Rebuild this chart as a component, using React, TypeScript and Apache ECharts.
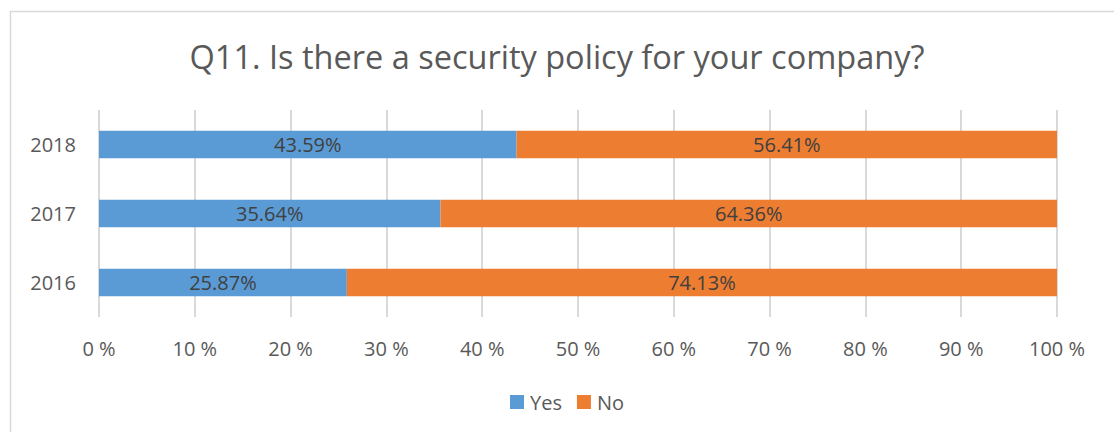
import React, { useEffect, useRef } from "react";
import * as echarts from "echarts";

const categories = ["2016", "2017", "2018"];
const yesValues = [25.87, 35.64, 43.59];
const noValues = [74.13, 64.36, 56.41];
const seriesNames = ["Yes", "No"];
const xTicks = [0, 10, 20, 30, 40, 50, 60, 70, 80, 90, 100];
const titleText = "Q11. Is there a security policy for your company?";

const FONT = "'Open Sans', 'Noto Sans', sans-serif";

export default function App() {
  const ref = useRef<HTMLDivElement>(null);
  useEffect(() => {
    if (!ref.current) return;
    const chart = echarts.init(ref.current, undefined, { renderer: "svg" });
    const labelStyle = {
      show: true,
      position: "inside" as const,
      color: "#404040",
      fontSize: 20,
      fontFamily: FONT,
      formatter: (p: any) => p.value.toFixed(2) + "%",
    };
    chart.setOption({
      animation: false,
      backgroundColor: "#ffffff",
      title: {
        text: titleText,
        left: "center",
        top: 35,
        textStyle: { color: "#595959", fontSize: 32.5, fontWeight: "normal", fontFamily: FONT },
      },
      legend: {
        data: seriesNames,
        bottom: 15,
        left: 505,
        itemWidth: 14,
        itemHeight: 14,
        itemGap: 15,
        icon: "rect",
        textStyle: { color: "#595959", fontSize: 20, fontFamily: FONT, padding: [0, 0, 0, 1] },
      },
      grid: { left: 99, right: 57, top: 110, height: 207, containLabel: false },
      xAxis: {
        type: "value",
        min: 0,
        max: 100,
        interval: 10,
        axisLine: { show: false },
        axisTick: { show: false },
        splitLine: { show: true, lineStyle: { color: "#d9d9d9", width: 2 } },
        axisLabel: {
          color: "#595959",
          fontSize: 20,
          fontFamily: FONT,
          margin: 21,
          formatter: (v: number) => (xTicks.includes(v) ? v + " %" : ""),
        },
      },
      yAxis: {
        type: "category",
        data: categories,
        axisLine: { show: false },
        axisTick: { show: false },
        axisLabel: { color: "#595959", fontSize: 20, fontFamily: FONT, margin: 23 },
      },
      series: [
        {
          name: seriesNames[0],
          type: "bar",
          stack: "total",
          data: yesValues,
          barCategoryGap: "60%",
          itemStyle: { color: "#5B9BD5" },
          label: labelStyle,
        },
        {
          name: seriesNames[1],
          type: "bar",
          stack: "total",
          data: noValues,
          barCategoryGap: "60%",
          itemStyle: { color: "#ED7D31" },
          label: labelStyle,
        },
      ],
      graphic: [
        { type: "line", shape: { x1: 10, y1: 11.5, x2: 1114, y2: 11.5 }, style: { stroke: "#d9d9d9", lineWidth: 1.5 } },
        { type: "line", shape: { x1: 10.5, y1: 11, x2: 10.5, y2: 432 }, style: { stroke: "#d9d9d9", lineWidth: 1.5 } },
      ],
    });
    return () => chart.dispose();
  }, []);
  return (
    <div
      ref={ref}
      style={{ position: "fixed", left: 0, top: 0, width: 1114, height: 432, background: "#fff" }}
    />
  );
}
